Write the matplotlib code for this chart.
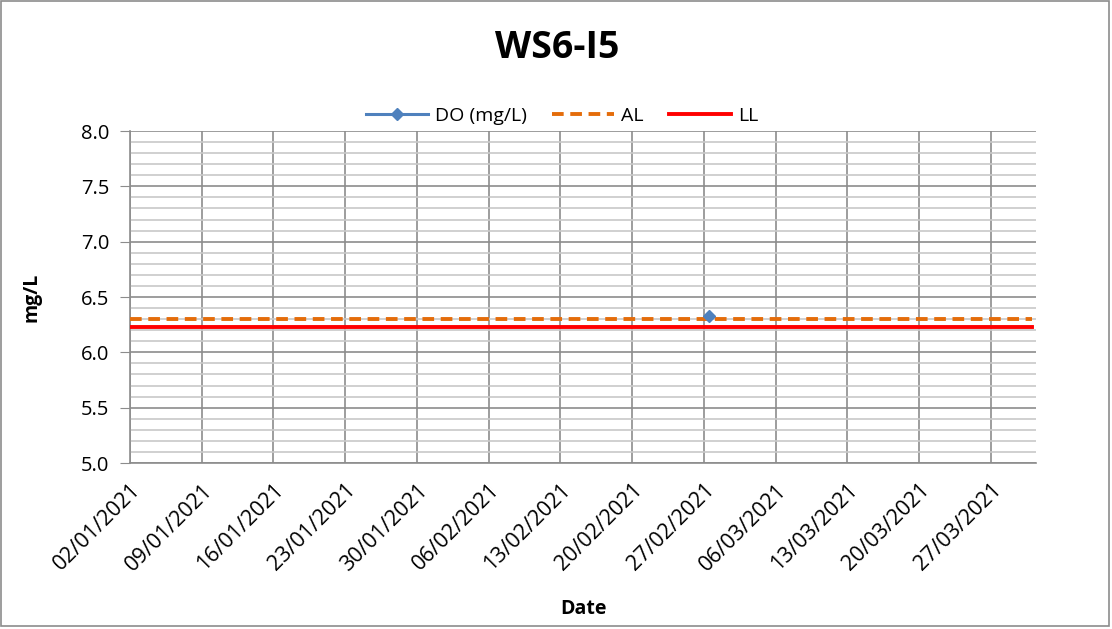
import datetime as dt

import matplotlib
matplotlib.use("Agg")
import matplotlib.dates as mdates
import matplotlib.pyplot as plt
from matplotlib.patches import Rectangle
from matplotlib.ticker import MultipleLocator

# data
do_dates = [dt.datetime(2021, 2, 27, 12)]
do_values = [6.33]
limit_dates = [dt.datetime(2021, 1, 2), dt.datetime(2021, 3, 31)]
al_values = [6.30, 6.30]
ll_values = [6.23, 6.23]
tick_dates = [dt.datetime(2021, 1, 2) + dt.timedelta(days=7 * i) for i in range(13)]

plt.rcParams["font.family"] = ["Open Sans", "DejaVu Sans"]

fig = plt.figure(figsize=(11.12, 6.29), dpi=100)
ax = fig.add_axes([0.1169, 0.2639, 0.8148, 0.5278])

ax.plot(limit_dates, al_values, color="#E46C0A", lw=2.8, ls=(0, (3, 1.7)), label="AL", zorder=3)
ax.plot(limit_dates, ll_values, color="#FF0000", lw=2.8, label="LL", zorder=3)
ax.plot(do_dates, do_values, color="#4F81BD", lw=2.2, marker="D", ms=6, label="DO (mg/L)", zorder=4)

ax.set_xlim(dt.datetime(2021, 1, 2), dt.datetime(2021, 3, 31, 10))
ax.set_ylim(5.0, 8.0)
ax.yaxis.set_major_locator(MultipleLocator(0.5))
ax.yaxis.set_minor_locator(MultipleLocator(0.1))
ax.set_xticks(tick_dates)
ax.xaxis.set_major_formatter(mdates.DateFormatter("%d/%m/%Y"))
ax.yaxis.set_major_formatter(plt.FormatStrFormatter("%.1f"))

ax.grid(which="major", axis="y", color="#8C8C8C", lw=1.2)
ax.grid(which="minor", axis="y", color="#C8C8C8", lw=1.2)
ax.grid(which="major", axis="x", color="#8C8C8C", lw=1.2)
ax.set_axisbelow(True)

for side in ("top", "right"):
    ax.spines[side].set_visible(False)
ax.spines["left"].set_color("#8C8C8C")
ax.spines["bottom"].set_color("#8C8C8C")
ax.spines["left"].set_linewidth(1.2)
ax.spines["bottom"].set_linewidth(1.2)
ax.tick_params(axis="y", which="major", length=7, color="#8C8C8C", labelsize=14.5, pad=8)
ax.tick_params(axis="y", which="minor", length=0)
ax.tick_params(axis="x", length=0, labelsize=15.5, pad=12)
plt.setp(ax.get_xticklabels(), rotation=45, ha="right", rotation_mode="anchor")

ax.set_xlabel("Date", fontsize=14, fontweight="bold", labelpad=17)
ax.set_ylabel("mg/L", fontsize=14, fontweight="bold", labelpad=28)
fig.text(0.501, 0.924, "WS6-I5", ha="center", va="center", fontsize=27, fontweight="bold")

handles, labels = ax.get_legend_handles_labels()
order = [2, 0, 1]
ax.legend([handles[i] for i in order], [labels[i] for i in order], loc="center",
          bbox_to_anchor=(0.477, 1.046), ncol=3, frameon=False, fontsize=14,
          handlelength=3.2, columnspacing=1.3, handletextpad=0.36)

fig.patches.append(Rectangle((0.001, 0.004), 0.996, 0.994, transform=fig.transFigure,
                             fill=False, edgecolor="#8C8C8C", lw=1.2))

fig.savefig("out.png", dpi=100)
